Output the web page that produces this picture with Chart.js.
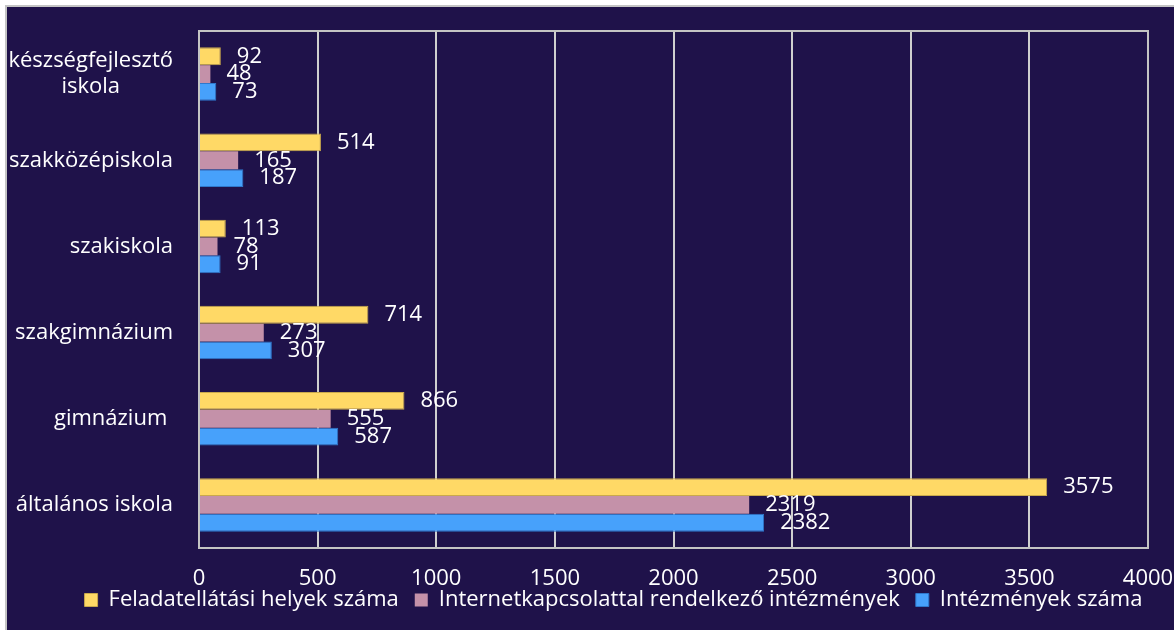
<!DOCTYPE html>
<html lang="hu">
<head>
<meta charset="utf-8">
<script src="https://cdn.jsdelivr.net/npm/chart.js@4/dist/chart.umd.min.js"></script>
<style>
    html, body {
        margin: 0;
        background: #ffffff;
        overflow: hidden;
        width: 1174px;
        height: 630px;
    }

    #panel {
        position: absolute;
        left: 5px;
        top: 5px;
        width: 1300px;
        height: 720px;
        background: #1f124a;
        border-left: 2px solid #c4c4c4;
        border-top: 2px solid #c4c4c4;
    }

    #wrap {
        position: absolute;
        left: 0;
        top: 0;
        width: 1213px;
        height: 651px;
    }
</style>
</head>
<body>

<div id="panel">
    <div id="wrap">
        <canvas id="schoolChart"></canvas>
    </div>
</div>

<script>

// ---------------------------
// Data
// ---------------------------

const categories = [
    ["készségfejlesztő", "iskola"],
    "szakközépiskola",
    "szakiskola",
    "szakgimnázium",
    "gimnázium ",
    "általános iskola"
];

const seriesNames = [
    "Feladatellátási helyek száma",
    "Internetkapcsolattal rendelkező intézmények",
    "Intézmények száma"
];

const feladatellatasiHelyek = [92, 514, 113, 714, 866, 3575];
const internetesIntezmenyek = [48, 165, 78, 273, 555, 2319];
const intezmenyekSzama = [73, 187, 91, 307, 587, 2382];

const xMin = 0;
const xMax = 4000;
const xStep = 500;

const FONT = "'Open Sans', Lato, sans-serif";
const FONT_SIZE = 22;
const RIGHT_PAD = 72;


// ---------------------------
// Plugins
// ---------------------------

// grey frame around the plot area
const plotFrame = {
    id: "plotFrame",
    beforeDatasetsDraw(chart) {
        const { ctx, chartArea } = chart;
        ctx.save();
        ctx.strokeStyle = "#c4c4c4";
        ctx.lineWidth = 2;
        ctx.strokeRect(chartArea.left, chartArea.top,
            chartArea.right - chartArea.left, chartArea.bottom - chartArea.top);
        ctx.restore();
    }
};

// pull the legend up under the axis labels and centre it on the full width
const legendPlace = {
    id: "legendPlace",
    afterLayout(chart) {
        const lift = 37;
        const shift = RIGHT_PAD / 2;
        chart.legend.top -= lift;
        chart.legend.bottom -= lift;
        chart.legend.left += shift;
        chart.legend.right += shift;
    }
};

// category names, block right-aligned, lines centred inside the block
const categoryLabels = {
    id: "categoryLabels",
    afterDraw(chart) {
        const { ctx, chartArea } = chart;
        const yScale = chart.scales.y;
        const lineHeight = 26;

        ctx.save();
        ctx.font = FONT_SIZE + "px " + FONT;
        ctx.fillStyle = "#ffffff";
        ctx.textAlign = "center";
        ctx.textBaseline = "middle";

        chart.data.labels.forEach(function(label, i) {
            const lines = Array.isArray(label) ? label : [label];
            const widest = Math.max(...lines.map(l => ctx.measureText(l).width));
            const cx = chartArea.left - 26 - widest / 2;
            const cy = yScale.getPixelForValue(i);
            const y0 = cy - (lines.length - 1) * lineHeight / 2;
            lines.forEach(function(line, j) {
                ctx.fillText(line, cx, y0 + j * lineHeight);
            });
        });

        ctx.restore();
    }
};

// value next to the end of each bar
const valueLabels = {
    id: "valueLabels",
    afterDatasetsDraw(chart) {
        const { ctx } = chart;
        ctx.save();
        ctx.font = FONT_SIZE + "px " + FONT;
        ctx.fillStyle = "#ffffff";
        ctx.textAlign = "left";
        ctx.textBaseline = "middle";

        chart.data.datasets.forEach(function(ds, d) {
            chart.getDatasetMeta(d).data.forEach(function(bar, i) {
                ctx.fillText(String(ds.data[i]), bar.x + 16, bar.y);
            });
        });

        ctx.restore();
    }
};


// ---------------------------
// Chart
// ---------------------------

new Chart(document.getElementById("schoolChart"), {

    type: "bar",

    data: {

        labels: categories,

        datasets: [

            {
                label: seriesNames[0],
                data: feladatellatasiHelyek,
                backgroundColor: "#ffd966",
                borderColor: "#c9a94c",
                borderWidth: 1
            },

            {
                label: seriesNames[1],
                data: internetesIntezmenyek,
                backgroundColor: "#c491a9",
                borderWidth: 0
            },

            {
                label: seriesNames[2],
                data: intezmenyekSzama,
                backgroundColor: "#47a1fb",
                borderColor: "#2f78cc",
                borderWidth: 1
            }

        ]

    },

    options: {

        indexAxis: "y",
        responsive: true,
        maintainAspectRatio: false,
        animation: false,

        categoryPercentage: 0.62,
        barPercentage: 1.0,

        layout: {
            padding: { top: 24, right: RIGHT_PAD, bottom: 0, left: 0 }
        },

        plugins: {

            legend: {
                position: "bottom",
                labels: {
                    color: "#ffffff",
                    boxWidth: 13,
                    boxHeight: 13,
                    padding: 16,
                    font: { family: FONT, size: FONT_SIZE }
                }
            },

            tooltip: { enabled: false }

        },

        scales: {

            x: {
                min: xMin,
                max: xMax,
                ticks: {
                    stepSize: xStep,
                    color: "#ffffff",
                    padding: 20,
                    font: { family: FONT, size: FONT_SIZE, lineHeight: 1 },
                    callback: function(value){
                        return String(value);
                    }
                },
                grid: {
                    color: "#cfcfcf",
                    lineWidth: 2,
                    drawTicks: false
                },
                border: { display: false }
            },

            y: {
                afterFit: function(scale) {
                    scale.width = 192;
                },
                ticks: { display: false },
                grid: { display: false },
                border: { display: false }
            }

        }

    },

    plugins: [plotFrame, legendPlace, categoryLabels, valueLabels]

});

</script>
</body>
</html>
